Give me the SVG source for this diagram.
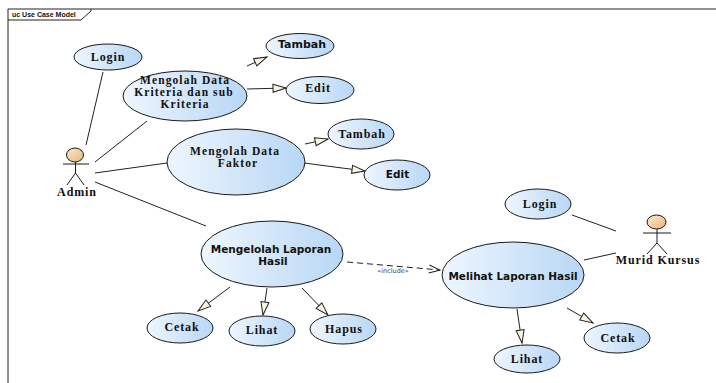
<svg xmlns="http://www.w3.org/2000/svg" width="716" height="383" viewBox="0 0 716 383">
<style>
.uc{stroke:#1a1a1a;stroke-width:1;fill:url(#ug)}
.act{stroke:#1a1a1a;stroke-width:1;fill:none}
.head{stroke:#1a1a1a;stroke-width:1;fill:url(#hg)}
.ln{stroke:#222;stroke-width:1;fill:none}
.gen{marker-end:url(#tri)}
.inc{stroke-dasharray:6,4;marker-end:url(#open)}
.s{font-family:"Liberation Serif","Times New Roman",serif;font-weight:bold;font-size:12px;letter-spacing:0.9px;text-anchor:middle;fill:#111}
.m{font-size:11.5px;letter-spacing:1.1px}
.ss{font-family:"DejaVu Sans",Verdana,sans-serif;font-weight:bold;font-size:10.5px;text-anchor:middle;fill:#111}
.lbl{font-family:"DejaVu Sans",sans-serif;font-size:6.5px;text-anchor:middle;fill:#444}
.frame{stroke:#222;stroke-width:1;fill:none}
.ttl{font-family:"Liberation Sans",Arial,sans-serif;font-weight:bold;font-size:7px;fill:#111}
</style>
<defs>
<linearGradient id="ug" x1="0" y1="0" x2="1" y2="0">
<stop offset="0" stop-color="#eef6fe"/>
<stop offset="1" stop-color="#b8d7f5"/>
</linearGradient>
<linearGradient id="hg" x1="0" y1="0" x2="1" y2="1">
<stop offset="0" stop-color="#fde9cc"/>
<stop offset="1" stop-color="#eab57c"/>
</linearGradient>
<marker id="tri" markerUnits="userSpaceOnUse" markerWidth="14" markerHeight="10" viewBox="0 0 14 10" refX="13" refY="4.5" orient="auto" style="overflow:visible">
<path d="M0,0.5 L13,4.5 L0,8.5 Z" fill="#fdf3e1" stroke="#222" stroke-width="1"/>
</marker>
<marker id="open" markerUnits="userSpaceOnUse" markerWidth="12" markerHeight="10" viewBox="0 0 12 10" refX="11" refY="4.5" orient="auto" style="overflow:visible">
<path d="M0,0.5 L11,4.5 L0,8.5" fill="none" stroke="#222" stroke-width="1"/>
</marker>
</defs>

<g id="frame">
<path class="frame" d="M8,383 V9 H716"/>
<path class="frame" d="M8,20 H81 L91,11 V9"/>
<text class="ttl" x="12" y="17">uc Use Case Model</text>
</g>

<g id="connectors">
<line class="ln" x1="86" y1="145" x2="103" y2="72"/>
<line class="ln" x1="95" y1="162" x2="147" y2="121"/>
<line class="ln" x1="95" y1="173" x2="167" y2="163"/>
<line class="ln" x1="95" y1="182" x2="206" y2="226"/>
<line class="ln gen" x1="247" y1="66" x2="267" y2="57"/>
<line class="ln gen" x1="247" y1="89" x2="286" y2="88"/>
<line class="ln gen" x1="305" y1="144" x2="328" y2="139"/>
<line class="ln gen" x1="304" y1="163" x2="365" y2="171"/>
<line class="ln gen" x1="230" y1="287" x2="198" y2="311"/>
<line class="ln gen" x1="267" y1="288" x2="263" y2="315"/>
<line class="ln gen" x1="302" y1="288" x2="328" y2="315"/>
<line class="ln inc" x1="347" y1="262" x2="440" y2="270"/>
<text class="lbl" x="393" y="273">«include»</text>
<line class="ln gen" x1="517" y1="309" x2="522" y2="343"/>
<line class="ln gen" x1="567" y1="308" x2="593" y2="323"/>
<line class="ln" x1="572" y1="215" x2="616" y2="231"/>
<line class="ln" x1="584" y1="260" x2="616" y2="253"/>
</g>

<g id="admin">
<ellipse class="head" cx="75" cy="155" rx="8.5" ry="7"/>
<line class="act" x1="63" y1="164" x2="89" y2="164"/>
<line class="act" x1="75.5" y1="162" x2="75.5" y2="173"/>
<polyline class="act" points="67,185 75.5,173 84,185"/>
<text class="s" x="77" y="196">Admin</text>
</g>

<g id="murid">
<ellipse class="head" cx="656.5" cy="222" rx="9.5" ry="7"/>
<line class="act" x1="643" y1="233" x2="671" y2="233"/>
<line class="act" x1="657" y1="229" x2="657" y2="243"/>
<polyline class="act" points="647,254 657,243 667,254"/>
<text class="s" x="658" y="264">Murid Kursus</text>
</g>

<g id="login1">
<ellipse class="uc" cx="108" cy="57" rx="34" ry="13"/>
<text class="s" x="108" y="61">Login</text>
</g>

<g id="kriteria">
<ellipse class="uc" cx="185" cy="96" rx="62" ry="25"/>
<text class="s m" x="185" y="84">Mengolah Data</text>
<text class="s m" x="184" y="96">Kriteria dan sub</text>
<text class="s m" x="185" y="108">Kriteria</text>
</g>

<g id="tambah1">
<ellipse class="uc" cx="300" cy="46" rx="34" ry="12.5"/>
<text class="ss" x="302" y="48" style="font-size:11px">Tambah</text>
</g>

<g id="edit1">
<ellipse class="uc" cx="320" cy="90" rx="34" ry="13.5"/>
<text class="s" x="318" y="92">Edit</text>
</g>

<g id="faktor">
<ellipse class="uc" cx="236" cy="162" rx="69" ry="33"/>
<text class="s m" x="235" y="155">Mengolah Data</text>
<text class="s m" x="238" y="167">Faktor</text>
</g>

<g id="tambah2">
<ellipse class="uc" cx="361" cy="134" rx="33" ry="15"/>
<text class="s" x="362" y="138">Tambah</text>
</g>

<g id="edit2">
<ellipse class="uc" cx="397" cy="175" rx="33" ry="15"/>
<text class="ss" x="397.5" y="178">Edit</text>
</g>

<g id="mengelolah">
<ellipse class="uc" cx="272" cy="254" rx="71" ry="33"/>
<text class="ss" x="271" y="253">Mengelolah Laporan</text>
<text class="ss" x="273" y="265">Hasil</text>
</g>

<g id="cetak1">
<ellipse class="uc" cx="180" cy="328" rx="33" ry="15"/>
<text class="s" x="182" y="331">Cetak</text>
</g>

<g id="lihat1">
<ellipse class="uc" cx="262" cy="331" rx="33" ry="15"/>
<text class="s" x="262" y="334">Lihat</text>
</g>

<g id="hapus">
<ellipse class="uc" cx="343" cy="329" rx="33" ry="15"/>
<text class="s" x="344" y="333">Hapus</text>
</g>

<g id="login2">
<ellipse class="uc" cx="538" cy="204" rx="33" ry="15"/>
<text class="s" x="540" y="208">Login</text>
</g>

<g id="melihat">
<ellipse class="uc" cx="513" cy="275" rx="71" ry="33"/>
<text class="ss" x="513" y="280">Melihat Laporan Hasil</text>
</g>

<g id="lihat2">
<ellipse class="uc" cx="527" cy="359" rx="33" ry="14"/>
<text class="s" x="527" y="363">Lihat</text>
</g>

<g id="cetak2">
<ellipse class="uc" cx="617" cy="338" rx="33" ry="15"/>
<text class="s" x="618" y="342">Cetak</text>
</g>
</svg>
